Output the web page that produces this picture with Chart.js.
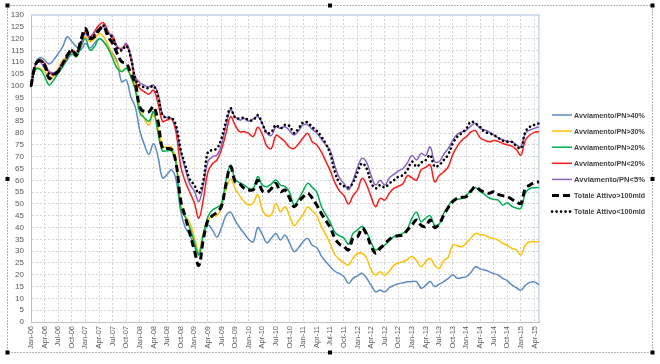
<!DOCTYPE html>
<html>
<head>
<meta charset="utf-8">
<script src="https://cdn.jsdelivr.net/npm/chart.js@4.4.1/dist/chart.umd.min.js"></script>
<style>
  html, body { margin: 0; padding: 0; background: #fff; }
  #wrap { width: 660px; height: 364px; }
</style>
</head>
<body>
<div id="wrap"><canvas id="grafico" width="660" height="364"></canvas></div>
<script>
// mesi gen-06 .. mag-15, un valore al mese
const mesi = ['Jan', 'Feb', 'Mar', 'Apr', 'May', 'Jun', 'Jul', 'Aug', 'Sep', 'Oct', 'Nov', 'Dec'];
const anni = ['06', '07', '08', '09', '10', '11', '12', '13', '14', '15'];
const ultimoMese = 4; // May-15

const etichette = [];
anni.forEach((a, k) => {
  mesi.forEach((m, j) => {
    if (k < anni.length - 1 || j <= ultimoMese) etichette.push(m + '-' + a);
  });
});

const nomiSerie = [
  'Avviamento/PN>40%',
  'Avviamento/PN>30%',
  'Avviamento/PN>20%',
  'Avviamento/PN<20%',
  'Avviamento/PN<5%',
  'Totale Attivo>100mld',
  'Totale Attivo<100mld'
];

const pn40 = [
  100, 109.5, 112, 111, 109.2, 111, 113.7, 116.6, 120.8, 118.7, 116.6, 115.2,
  118, 116, 118, 120, 118.7, 116, 113.7, 110.2, 101.7, 102.5, 95.4, 91,
  81, 75, 71, 75.5, 70, 61, 62.5, 64.5, 60, 47, 40, 37,
  32, 29, 37, 41, 39, 36, 40, 45, 46.5, 43, 40, 37.5,
  35, 34, 40, 37, 33.5, 35.5, 37.5, 34.7, 36.8, 33.5, 29.8, 31.5,
  34, 35.4, 32.5, 31.5, 28, 25.5, 23.4, 21.5, 20.5, 19.2, 16.4, 18.5,
  19.5, 20.6, 18.5, 15.5, 12.8, 13.5, 12.8, 14.5, 15.5, 16.2, 16.6, 17,
  17.1, 17.1, 14.3, 15.5, 17.1, 15, 16, 17.1, 18.5, 20, 18.5, 18.8,
  19.2, 21, 23.4, 22.5, 22, 21.3, 20.5, 19.9, 18.5, 17.5, 15.7, 14.5,
  13.5, 15.5, 16.8, 17, 15.7
];

const pn30 = [
  100, 107.4, 107.4, 106, 102.5, 103.9, 107.4, 111, 112, 114.5, 114.5, 116.6,
  120.8, 118.7, 120, 122.2, 120.8, 117.3, 113, 109.5, 106, 107.4, 104.6, 99.6,
  90.5, 86, 83.5, 88, 82, 74.5, 74, 74, 68, 50, 45, 42,
  36, 30, 38, 43, 45, 45, 48.5, 56, 60.5, 56.5, 53.5, 51,
  49.5, 50.5, 53.8, 47.5, 45, 45.5, 50.2, 46.7, 48.8, 45, 40.8, 43,
  45.5, 48.8, 47, 45, 40.5, 37, 33, 28.5, 26.5, 25, 24.1, 27,
  29, 29.1, 27, 22, 19.9, 21.3, 19.9, 21.5, 24, 25, 25.5, 26.5,
  27.7, 26, 23.4, 25.5, 27, 24, 22.7, 26, 27.5, 32.6, 32.3, 31.9,
  33.5, 35.5, 37.5, 37, 36.8, 35.8, 35.4, 34.7, 33.3, 32.5, 31.2, 30.5,
  28.4, 32.6, 34, 34, 34
];

const pn20 = [
  100, 107, 107, 104, 100.3, 102.5, 105.3, 108.1, 111, 113.5, 112.3, 116.6,
  120, 115.2, 116.6, 120, 118.7, 115.9, 111.6, 107.4, 106, 107.4, 103.9, 98.2,
  88.5, 86.5, 85, 89, 80, 72.5, 72.5, 72.5, 67, 48, 44.5, 40,
  34, 28.4, 37, 44.6, 47.4, 48.5, 50, 60, 66.5, 60.5, 59, 58,
  56.6, 56.5, 61.5, 58, 57.3, 58.5, 60.1, 58, 57.3, 55, 49.5, 52,
  55.5, 58.7, 57, 55, 49, 45.5, 42, 38, 36.5, 35.5, 33, 37.5,
  39, 40.4, 38, 33.5, 30.5, 31.9, 32.6, 34.5, 36.1, 37, 37.5, 39.5,
  44, 46.5, 42.5, 44, 45, 41, 41.5, 46, 49, 51.6, 52, 52.4,
  53.8, 55.5, 57, 55.2, 54, 52.5, 52, 51.6, 49.5, 50.5, 49, 48.3,
  48.1, 54.5, 56.6, 56.8, 57
];

const pnMeno20 = [
  100, 109, 111.2, 109.5, 106, 104.6, 106.4, 109, 112, 114.5, 114, 118,
  123, 120.8, 123, 125.7, 126.7, 123, 120, 116.6, 115.9, 117.3, 111.6, 101.7,
  98.9, 97.5, 96.5, 98.2, 92.6, 85, 85.5, 86, 80, 66, 59.5, 55,
  50.5, 44, 52, 63.5, 67, 68.6, 73, 80, 86.9, 83.4, 80.6, 80.6,
  79.9, 78.5, 82.5, 79.5, 74.5, 73.5, 79, 78, 76.3, 74, 73.5, 75.5,
  78, 79.9, 76.3, 75, 72, 68, 64, 59, 55.5, 53.5, 50, 53.5,
  56, 60.8, 58, 53, 48.8, 52.4, 51.6, 54.5, 56.6, 57.5, 58.5, 62,
  61, 60.1, 64.4, 65.5, 66.5, 59.4, 62, 63.6, 65.8, 71, 74.5, 77,
  78.5, 80.5, 81, 78, 77, 76.3, 76.8, 76.5, 75.6, 75, 74.5, 73,
  70.7, 77, 79.2, 80.3, 80.6
];

const pn5 = [
  100, 109, 110.2, 107.4, 106, 105.6, 106.7, 109, 112, 114.5, 114, 117.5,
  122.2, 120, 122.5, 124.3, 125, 122.2, 121.5, 116.6, 115.5, 118, 113, 103.9,
  101.3, 100.3, 99.6, 100.3, 96.8, 88, 86.5, 86.2, 82, 72, 65, 58.5,
  55.5, 51, 58, 68, 70, 70.7, 75, 83.4, 89.8, 86.9, 85.5, 86.2,
  85, 86, 87, 84, 80, 79, 82.7, 82, 82.7, 81, 79.2, 81,
  83.5, 83.5, 81.5, 80, 77.5, 75, 72.5, 66, 61, 58.7, 56, 60,
  65.5, 69.3, 67.5, 62, 58, 60, 58, 61, 62.5, 64, 65, 67.5,
  70.5, 68.6, 71.4, 70.5, 74.2, 67.9, 67.9, 71, 73.5, 77, 79.5, 80.5,
  81.3, 83, 84.1, 82, 81.3, 80.5, 79.2, 78, 77.2, 76.5, 76.3, 75,
  74.2, 79.9, 81.3, 82, 82.7
];

const attivoOltre100 = [
  100, 109, 110.6, 108.8, 103.2, 104.6, 106, 109.5, 113, 115.2, 113, 119.4,
  124.3, 120, 120.8, 123.6, 125, 120.8, 118, 113.7, 110.2, 109.5, 105.3, 101,
  91, 89, 89, 91.2, 85, 73.5, 73.5, 73, 67, 51.6, 44.6, 37.5,
  30.5, 24, 35, 43, 45, 46.5, 49, 58.5, 65.8, 59.5, 58.5, 56.6,
  55.9, 56, 60, 55.5, 55, 56.5, 58.7, 55.2, 55.9, 52.5, 48.8, 51,
  53, 54.5, 52.5, 49.5, 46, 43, 40, 35.5, 33, 32, 30.5, 35.5,
  36.1, 39.7, 37, 32, 29.1, 31.2, 33, 35, 36.1, 36.5, 36.8, 39,
  41.1, 43.2, 41, 40.4, 43.2, 40, 41.5, 45.3, 48.5, 51, 52.4, 52.8,
  53.1, 55.5, 57.3, 55.9, 55, 54.5, 55.2, 54, 53.5, 53.1, 52, 50.9,
  50.2, 56.6, 58, 59, 59.4
];

const attivoSotto100 = [
  100, 109, 111, 108.5, 105, 105, 106.5, 109.5, 112.5, 115, 113.5, 118.5,
  123.5, 120.5, 121.5, 124, 125.5, 122, 120.5, 116, 115, 117, 112, 103,
  100, 99.5, 99, 100, 95.5, 87.5, 86.5, 86.5, 83, 73, 66.5, 60.5,
  58, 54.5, 60, 72, 72.8, 73.5, 77.8, 85, 90.5, 86.5, 86.2, 86.5,
  85.5, 85.5, 87.6, 84, 80, 80.5, 83.4, 82, 83.5, 83, 80, 82,
  84.5, 84.5, 82.5, 81, 78.5, 75.5, 71, 63.5, 59, 57.5, 57, 59,
  63.5, 67.2, 65, 59, 56.6, 58, 57, 58.7, 60, 61.5, 62.2, 64.5,
  67.9, 65.8, 67.5, 68.5, 70.7, 65.8, 66.5, 68.6, 71, 75.6, 78.5, 80,
  82, 84.8, 84, 82.7, 80.5, 79.9, 79.2, 78, 76.8, 76.3, 76.3, 74.5,
  73.5, 80.6, 82.7, 83.5, 84.1
];

const valori = [pn40, pn30, pn20, pnMeno20, pn5, attivoOltre100, attivoSotto100];
const colori = ['#5b8bc4', '#ffc000', '#00b050', '#ff1a1a', '#8a62c4', '#000000', '#000000'];
const spessori = [1.5, 1.5, 1.5, 1.5, 1.5, 3, 2.6];
const tratteggi = [[], [], [], [], [], [7, 4], [0.1, 4.4]];
const ordine = [7, 6, 5, 4, 3, 2, 1];

const FONT = "'Liberation Sans', Arial, sans-serif";

// cornice tratteggiata con le maniglie (come la selezione in Excel)
const cornice = {
  id: 'cornice',
  beforeDraw(c) {
    const ctx = c.ctx;
    ctx.save();
    ctx.fillStyle = '#fff';
    ctx.fillRect(0, 0, c.width, c.height);
    ctx.strokeStyle = '#666';
    ctx.lineWidth = 1;
    ctx.setLineDash([1, 2]);
    ctx.strokeRect(7.5, 5.5, 645, 347);
    ctx.setLineDash([]);
    ctx.fillStyle = '#000';
    [[7.5, 5.5], [330, 5.5], [652.5, 5.5], [7.5, 179], [652.5, 179], [7.5, 352.5], [330, 352.5], [652.5, 352.5]]
      .forEach(p => ctx.fillRect(p[0] - 2, p[1] - 2, 4, 4));
    ctx.restore();
  },
  beforeDatasetsDraw(c) {
    const a = c.chartArea;
    const ctx = c.ctx;
    ctx.save();
    ctx.strokeStyle = '#c6d8ee';
    ctx.lineWidth = 1.5;
    ctx.beginPath();
    ctx.moveTo(a.left, a.top);
    ctx.lineTo(a.right, a.top);
    ctx.lineTo(a.right, a.bottom);
    ctx.stroke();
    ctx.restore();
  }
};

// legenda a destra disegnata a mano per avere le posizioni giuste
const legenda = {
  id: 'legenda',
  afterDraw(c) {
    const ctx = c.ctx;
    ctx.save();
    c.data.datasets.forEach((ds, i) => {
      const y = 115 + i * 16.1;
      ctx.strokeStyle = ds.borderColor;
      ctx.lineWidth = ds.borderWidth;
      ctx.lineCap = ds.borderCapStyle || 'butt';
      ctx.setLineDash(ds.borderDash || []);
      ctx.beginPath();
      ctx.moveTo(552, y);
      ctx.lineTo(572, y);
      ctx.stroke();
      ctx.setLineDash([]);
      ctx.fillStyle = '#404040';
      ctx.font = 'bold 8px ' + FONT;
      ctx.textBaseline = 'middle';
      ctx.fillText(ds.label, 574, y + 0.5, 71);
    });
    ctx.restore();
  }
};

const datasets = nomiSerie.map((nome, i) => ({
  label: nome,
  data: valori[i],
  borderColor: colori[i],
  backgroundColor: colori[i],
  borderWidth: spessori[i],
  borderDash: tratteggi[i],
  borderCapStyle: i === 6 ? 'round' : 'butt',
  pointRadius: 0,
  tension: 0.4,
  fill: false,
  order: ordine[i]
}));

new Chart(document.getElementById('grafico'), {
  type: 'line',
  data: { labels: etichette, datasets },
  options: {
    responsive: false,
    animation: false,
    devicePixelRatio: 1,
    layout: { padding: { left: 0, top: 15, right: 121, bottom: 0 } },
    plugins: {
      legend: { display: false },
      tooltip: { enabled: false }
    },
    scales: {
      x: {
        afterFit(s) { s.height = 42; },
        grid: { color: '#d4d4d4', drawTicks: false },
        border: { color: '#bfbfbf', dash: [2, 2] },
        ticks: {
          autoSkip: false,
          maxRotation: 90,
          minRotation: 90,
          padding: 4,
          color: '#595959',
          font: { family: FONT, size: 7.5 },
          callback(v, idx) { return idx % 3 === 0 ? this.getLabelForValue(v) : null; }
        }
      },
      y: {
        min: 0,
        max: 130,
        afterFit(s) { s.width = 31; },
        grid: { color: '#d4d4d4', drawTicks: false },
        border: { color: '#bfbfbf', dash: [2, 2] },
        ticks: {
          stepSize: 5,
          autoSkip: false,
          padding: 7,
          color: '#595959',
          font: { family: FONT, size: 8 }
        }
      }
    }
  },
  plugins: [cornice, legenda]
});
</script>
</body>
</html>
